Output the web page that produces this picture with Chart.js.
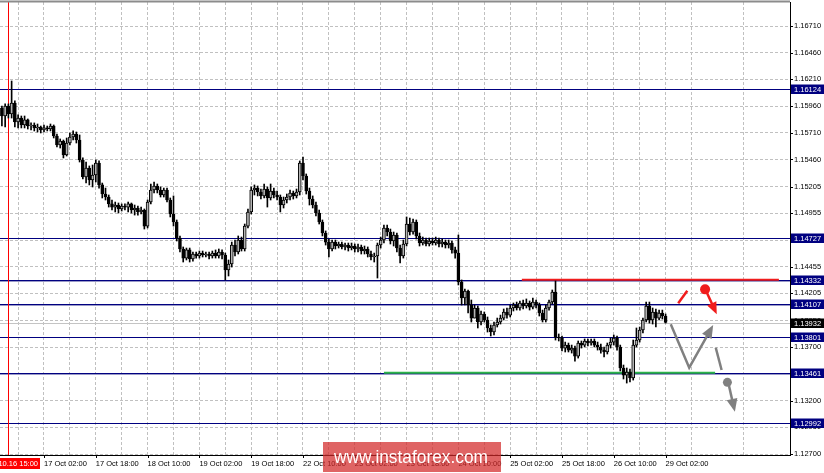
<!DOCTYPE html>
<html>
<head>
<meta charset="utf-8">
<script src="https://cdn.jsdelivr.net/npm/chart.js@4.4.0/dist/chart.umd.min.js"></script>
<style>
  html, body { margin: 0; padding: 0; background: #fff; }
  #wrap { width: 824px; height: 473px; position: relative; }
</style>
</head>
<body>
<div id="wrap"><canvas id="chart"></canvas></div>
<script>
// EUR/USD H1 candles, 16 Oct 13:00 - 29 Oct 02:00 (bar 0 = 17 Oct 02:00)
const firstBar = -13;

const opens = [
  1.15942, 1.15867, 1.15961, 1.15886, 1.15989, 1.15811, 1.15848, 1.15783, 1.15830, 1.15773,
  1.15783, 1.15755, 1.15764, 1.15736, 1.15755, 1.15745, 1.15773, 1.15680, 1.15595, 1.15633,
  1.15502, 1.15614, 1.15670, 1.15698, 1.15642, 1.15455, 1.15296, 1.15380, 1.15268, 1.15314,
  1.15427, 1.15221, 1.15136, 1.15108, 1.15043, 1.15014, 1.15033, 1.14996, 1.15024, 1.15014,
  1.15043, 1.14986, 1.15005, 1.14968, 1.14986, 1.14836, 1.15061, 1.15174, 1.15211, 1.15174,
  1.15127, 1.15174, 1.15080, 1.14949, 1.14874, 1.14724, 1.14621, 1.14536, 1.14612, 1.14527,
  1.14574, 1.14555, 1.14583, 1.14565, 1.14574, 1.14555, 1.14583, 1.14555, 1.14593, 1.14565,
  1.14424, 1.14480, 1.14658, 1.14593, 1.14705, 1.14621, 1.14836, 1.14968, 1.15174, 1.15192,
  1.15155, 1.15118, 1.15183, 1.15099, 1.15164, 1.15127, 1.15108, 1.15033, 1.15080, 1.15108,
  1.15146, 1.15118, 1.15155, 1.15427, 1.15305, 1.15164, 1.15089, 1.15033, 1.14958, 1.14874,
  1.14771, 1.14686, 1.14621, 1.14686, 1.14649, 1.14668, 1.14640, 1.14658, 1.14630, 1.14649,
  1.14621, 1.14640, 1.14602, 1.14621, 1.14574, 1.14546, 1.14555, 1.14658, 1.14705, 1.14818,
  1.14780, 1.14696, 1.14752, 1.14630, 1.14555, 1.14668, 1.14855, 1.14780, 1.14874, 1.14743,
  1.14677, 1.14705, 1.14668, 1.14696, 1.14677, 1.14705, 1.14668, 1.14686, 1.14658, 1.14677,
  1.14612, 1.14583, 1.14312, 1.14162, 1.14227, 1.14096, 1.13974, 1.14068, 1.13937, 1.14012,
  1.13956, 1.13881, 1.13843, 1.13909, 1.13937, 1.13974, 1.14031, 1.14002, 1.14068, 1.14096,
  1.14068, 1.14115, 1.14087, 1.14115, 1.14077, 1.14124, 1.14096, 1.14021, 1.13956, 1.14068,
  1.14124, 1.14218, 1.13796, 1.13787, 1.13693, 1.13721, 1.13674, 1.13693, 1.13618, 1.13740,
  1.13721, 1.13759, 1.13740, 1.13759, 1.13721, 1.13703, 1.13674, 1.13656, 1.13721, 1.13749,
  1.13787, 1.13703, 1.13506, 1.13440, 1.13468, 1.13412, 1.13721, 1.13768, 1.13862, 1.13956,
  1.14087, 1.13956, 1.14031, 1.13974, 1.14021, 1.13993
];

const highs = [
  1.15961, 1.15980, 1.15980, 1.16195, 1.16008, 1.15877, 1.15867, 1.15867, 1.15839, 1.15802,
  1.15802, 1.15792, 1.15773, 1.15783, 1.15773, 1.15792, 1.15783, 1.15698, 1.15652, 1.15642,
  1.15661, 1.15708, 1.15727, 1.15717, 1.15689, 1.15474, 1.15436, 1.15399, 1.15408, 1.15455,
  1.15446, 1.15239, 1.15192, 1.15127, 1.15080, 1.15061, 1.15052, 1.15043, 1.15043, 1.15061,
  1.15052, 1.15033, 1.15024, 1.15014, 1.14996, 1.15080, 1.15230, 1.15249, 1.15230, 1.15202,
  1.15192, 1.15192, 1.15099, 1.15118, 1.14893, 1.14743, 1.14640, 1.14630, 1.14630, 1.14593,
  1.14593, 1.14602, 1.14602, 1.14593, 1.14593, 1.14602, 1.14612, 1.14621, 1.14612, 1.14583,
  1.14518, 1.14686, 1.14705, 1.14743, 1.14733, 1.14855, 1.14996, 1.15202, 1.15221, 1.15211,
  1.15183, 1.15230, 1.15202, 1.15230, 1.15192, 1.15164, 1.15127, 1.15108, 1.15136, 1.15174,
  1.15164, 1.15183, 1.15446, 1.15483, 1.15324, 1.15192, 1.15118, 1.15061, 1.14986, 1.14893,
  1.14790, 1.14715, 1.14705, 1.14705, 1.14686, 1.14686, 1.14677, 1.14677, 1.14677, 1.14668,
  1.14668, 1.14658, 1.14649, 1.14640, 1.14602, 1.14583, 1.14677, 1.14733, 1.14846, 1.14846,
  1.14808, 1.14780, 1.14771, 1.14658, 1.14705, 1.14921, 1.14911, 1.14902, 1.14893, 1.14771,
  1.14733, 1.14724, 1.14724, 1.14724, 1.14733, 1.14724, 1.14715, 1.14705, 1.14705, 1.14696,
  1.14640, 1.14752, 1.14331, 1.14246, 1.14237, 1.14143, 1.14096, 1.14087, 1.14040, 1.14031,
  1.13984, 1.13909, 1.13937, 1.13974, 1.14002, 1.14059, 1.14068, 1.14096, 1.14115, 1.14124,
  1.14134, 1.14143, 1.14153, 1.14134, 1.14162, 1.14143, 1.14115, 1.14049, 1.14096, 1.14143,
  1.14237, 1.14321, 1.13825, 1.13806, 1.13749, 1.13740, 1.13721, 1.13712, 1.13759, 1.13759,
  1.13778, 1.13778, 1.13778, 1.13778, 1.13749, 1.13731, 1.13703, 1.13740, 1.13787, 1.13815,
  1.13806, 1.13721, 1.13534, 1.13506, 1.13496, 1.13768, 1.13881, 1.13890, 1.13974, 1.14124,
  1.14124, 1.14068, 1.14059, 1.14049, 1.14049, 1.14012
];

const lows = [
  1.15773, 1.15764, 1.15848, 1.15848, 1.15764, 1.15755, 1.15755, 1.15755, 1.15745, 1.15736,
  1.15727, 1.15717, 1.15708, 1.15717, 1.15727, 1.15727, 1.15661, 1.15577, 1.15567, 1.15474,
  1.15492, 1.15595, 1.15642, 1.15614, 1.15436, 1.15277, 1.15239, 1.15221, 1.15202, 1.15249,
  1.15192, 1.15099, 1.15080, 1.15014, 1.14986, 1.14968, 1.14958, 1.14977, 1.14986, 1.14968,
  1.14958, 1.14939, 1.14939, 1.14949, 1.14808, 1.14818, 1.15043, 1.15146, 1.15146, 1.15108,
  1.15108, 1.15061, 1.14921, 1.14836, 1.14696, 1.14593, 1.14499, 1.14518, 1.14499, 1.14508,
  1.14536, 1.14536, 1.14546, 1.14546, 1.14527, 1.14536, 1.14536, 1.14536, 1.14527, 1.14331,
  1.14368, 1.14452, 1.14555, 1.14574, 1.14602, 1.14602, 1.14818, 1.14949, 1.15127, 1.15118,
  1.15089, 1.15099, 1.15014, 1.15080, 1.15099, 1.15080, 1.14968, 1.15005, 1.15052, 1.15080,
  1.15089, 1.15099, 1.15127, 1.15268, 1.15136, 1.15033, 1.15005, 1.14930, 1.14855, 1.14743,
  1.14658, 1.14546, 1.14602, 1.14621, 1.14630, 1.14621, 1.14612, 1.14602, 1.14612, 1.14593,
  1.14593, 1.14574, 1.14574, 1.14546, 1.14518, 1.14499, 1.14349, 1.14630, 1.14677, 1.14743,
  1.14668, 1.14649, 1.14593, 1.14490, 1.14536, 1.14649, 1.14752, 1.14761, 1.14715, 1.14649,
  1.14658, 1.14649, 1.14649, 1.14658, 1.14658, 1.14640, 1.14640, 1.14630, 1.14630, 1.14583,
  1.14536, 1.14284, 1.14096, 1.14096, 1.14021, 1.13937, 1.13974, 1.13881, 1.13909, 1.13937,
  1.13843, 1.13806, 1.13815, 1.13890, 1.13918, 1.13956, 1.13974, 1.13984, 1.14040, 1.14049,
  1.14049, 1.14059, 1.14068, 1.14049, 1.14059, 1.14068, 1.13993, 1.13937, 1.13937, 1.14049,
  1.14106, 1.13768, 1.13759, 1.13665, 1.13656, 1.13656, 1.13646, 1.13571, 1.13599, 1.13693,
  1.13703, 1.13712, 1.13721, 1.13703, 1.13674, 1.13646, 1.13609, 1.13637, 1.13693, 1.13721,
  1.13674, 1.13478, 1.13403, 1.13365, 1.13375, 1.13393, 1.13703, 1.13749, 1.13834, 1.13937,
  1.13927, 1.13918, 1.13890, 1.13956, 1.13965, 1.13927
];

const closes = [
  1.15867, 1.15961, 1.15886, 1.15989, 1.15811, 1.15848, 1.15783, 1.15830, 1.15773, 1.15783,
  1.15755, 1.15764, 1.15736, 1.15755, 1.15745, 1.15773, 1.15680, 1.15595, 1.15633, 1.15502,
  1.15614, 1.15670, 1.15698, 1.15642, 1.15455, 1.15296, 1.15380, 1.15268, 1.15314, 1.15427,
  1.15221, 1.15136, 1.15108, 1.15043, 1.15014, 1.15033, 1.14996, 1.15024, 1.15014, 1.15043,
  1.14986, 1.15005, 1.14968, 1.14986, 1.14836, 1.15061, 1.15174, 1.15211, 1.15174, 1.15127,
  1.15174, 1.15080, 1.14949, 1.14874, 1.14724, 1.14621, 1.14536, 1.14612, 1.14527, 1.14574,
  1.14555, 1.14583, 1.14565, 1.14574, 1.14555, 1.14583, 1.14555, 1.14593, 1.14565, 1.14424,
  1.14480, 1.14658, 1.14593, 1.14705, 1.14621, 1.14836, 1.14968, 1.15174, 1.15192, 1.15155,
  1.15118, 1.15183, 1.15099, 1.15164, 1.15127, 1.15108, 1.15033, 1.15080, 1.15108, 1.15146,
  1.15118, 1.15155, 1.15427, 1.15305, 1.15164, 1.15089, 1.15033, 1.14958, 1.14874, 1.14771,
  1.14686, 1.14621, 1.14686, 1.14649, 1.14668, 1.14640, 1.14658, 1.14630, 1.14649, 1.14621,
  1.14640, 1.14602, 1.14621, 1.14574, 1.14546, 1.14555, 1.14658, 1.14705, 1.14818, 1.14780,
  1.14696, 1.14752, 1.14630, 1.14555, 1.14668, 1.14855, 1.14780, 1.14874, 1.14743, 1.14677,
  1.14705, 1.14668, 1.14696, 1.14677, 1.14705, 1.14668, 1.14686, 1.14658, 1.14677, 1.14612,
  1.14583, 1.14312, 1.14162, 1.14227, 1.14096, 1.13974, 1.14068, 1.13937, 1.14012, 1.13956,
  1.13881, 1.13843, 1.13909, 1.13937, 1.13974, 1.14031, 1.14002, 1.14068, 1.14096, 1.14068,
  1.14115, 1.14087, 1.14115, 1.14077, 1.14124, 1.14096, 1.14021, 1.13956, 1.14068, 1.14124,
  1.14218, 1.13796, 1.13787, 1.13693, 1.13721, 1.13674, 1.13693, 1.13618, 1.13740, 1.13721,
  1.13759, 1.13740, 1.13759, 1.13721, 1.13703, 1.13674, 1.13656, 1.13721, 1.13749, 1.13787,
  1.13703, 1.13506, 1.13440, 1.13468, 1.13412, 1.13721, 1.13768, 1.13862, 1.13956, 1.14087,
  1.13956, 1.14031, 1.13974, 1.14021, 1.13993, 1.13932
];

// axis labels
const xTickLabels = ['17 Oct 02:00', '17 Oct 18:00', '18 Oct 10:00', '19 Oct 02:00', '19 Oct 18:00',
  '22 Oct 10:00', '23 Oct 02:00', '23 Oct 18:00', '24 Oct 10:00', '25 Oct 02:00', '25 Oct 18:00',
  '26 Oct 10:00', '29 Oct 02:00'];
const yTicks = [1.16710, 1.16460, 1.16210, 1.15960, 1.15710, 1.15460, 1.15205, 1.14955, 1.14705,
  1.14455, 1.14205, 1.13950, 1.13700, 1.13450, 1.13200, 1.12950, 1.12700];

// horizontal levels and marks
const levels = [1.16124, 1.14727, 1.14332, 1.14107, 1.13801, 1.13461, 1.12992];
const thickLevels = [1.14332, 1.14107, 1.13461];
const bidPrice = 1.13932;
const markerBar = -11;
const markerLabel = '2018.10.16 15:00';
const resistance = { from: 147.6, to: 227.0, price: 1.14332 };
const support = { from: 105.0, to: 207.3, price: 1.13461 };

// forecast drawings, [bar, price]
const redStroke = [[195.9, 1.14112], [198.7, 1.14230]];
const redDot = [204.2, 1.14243];
const redArrow = [[204.8, 1.14209], [207.8, 1.14009]];
const grayPath = [[193.6, 1.13915], [199.3, 1.13509], [206.7, 1.13909]];
const grayStroke = [[207.5, 1.13696], [209.3, 1.13487]];
const grayDot = [211.1, 1.13372];
const grayArrow = [[211.6, 1.13337], [213.4, 1.13096]];

const FONT = 'Liberation Sans, Arial, sans-serif';
const NAVY = '#000080';

const gridBars = [];
for (let b = -8; b <= 224; b += 8) gridBars.push(b);

const wickData = opens.map((o, i) => ({ x: firstBar + i, y: [lows[i], highs[i]] }));
const bodyData = opens.map((o, i) => ({ x: firstBar + i, y: [o, closes[i]] }));
const bodyColors = opens.map((o, i) => closes[i] > o ? '#b4b4b4' : '#000000');

function hline(ctx, x1, x2, y, color, width) {
  ctx.strokeStyle = color;
  ctx.lineWidth = width;
  ctx.beginPath();
  ctx.moveTo(x1, y);
  ctx.lineTo(x2, y);
  ctx.stroke();
}

function drawArrow(ctx, pts, color, width, head) {
  const n = pts.length;
  const [tx, ty] = pts[n - 1];
  const [px, py] = pts[n - 2];
  const ang = Math.atan2(ty - py, tx - px);
  ctx.strokeStyle = color;
  ctx.fillStyle = color;
  ctx.lineWidth = width;
  ctx.lineJoin = 'miter';
  ctx.beginPath();
  ctx.moveTo(pts[0][0], pts[0][1]);
  for (let i = 1; i < n - 1; i++) ctx.lineTo(pts[i][0], pts[i][1]);
  if (head) ctx.lineTo(tx - Math.cos(ang) * head * 0.8, ty - Math.sin(ang) * head * 0.8);
  else ctx.lineTo(tx, ty);
  ctx.stroke();
  if (head) {
    const bx = tx - Math.cos(ang) * head, by = ty - Math.sin(ang) * head;
    const w = head * 0.42;
    ctx.beginPath();
    ctx.moveTo(tx, ty);
    ctx.lineTo(bx + Math.sin(ang) * w, by - Math.cos(ang) * w);
    ctx.lineTo(bx - Math.sin(ang) * w, by + Math.cos(ang) * w);
    ctx.closePath();
    ctx.fill();
  }
}

const overlay = {
  id: 'overlay',
  beforeDatasetsDraw(chart) {
    const { ctx, chartArea: a, scales: { x, y } } = chart;
    const py = v => Math.round(y.getPixelForValue(v)) + 0.5;
    ctx.save();
    hline(ctx, a.left, a.right, py(bidPrice), '#c4c4c4', 1);
    levels.forEach(v => {
      hline(ctx, a.left, a.right, py(v), NAVY, 1);
      if (thickLevels.includes(v)) hline(ctx, a.left, a.right, py(v) + 1, '#9a9ac8', 1);
    });
    hline(ctx, x.getPixelForValue(resistance.from), x.getPixelForValue(resistance.to),
      y.getPixelForValue(resistance.price), '#f01c1c', 2);
    hline(ctx, x.getPixelForValue(support.from), x.getPixelForValue(support.to),
      y.getPixelForValue(support.price), '#2db34a', 2);
    const mx = Math.round(x.getPixelForValue(markerBar)) + 0.5;
    ctx.strokeStyle = '#ff0000';
    ctx.lineWidth = 1;
    ctx.beginPath();
    ctx.moveTo(mx, a.top);
    ctx.lineTo(mx, a.bottom);
    ctx.stroke();
    ctx.restore();
  },
  afterDatasetsDraw(chart) {
    const { ctx, scales: { x, y } } = chart;
    const p = pt => [x.getPixelForValue(pt[0]), y.getPixelForValue(pt[1])];
    ctx.save();
    drawArrow(ctx, redStroke.map(p), '#f01c1c', 2.5, 0);
    drawArrow(ctx, redArrow.map(p), '#f01c1c', 2.5, 12);
    drawArrow(ctx, grayPath.map(p), '#808080', 2.5, 13);
    drawArrow(ctx, grayStroke.map(p), '#808080', 2.5, 0);
    drawArrow(ctx, grayArrow.map(p), '#808080', 2.5, 13);
    [[redDot, '#f01c1c', 5], [grayDot, '#808080', 4.5]].forEach(([d, c, r]) => {
      const [cx, cy] = p(d);
      ctx.fillStyle = c;
      ctx.beginPath();
      ctx.arc(cx, cy, r, 0, Math.PI * 2);
      ctx.fill();
    });
    ctx.restore();
  },
  afterDraw(chart) {
    const { ctx, chartArea: a, scales: { x, y }, width } = chart;
    ctx.save();
    // tick marks
    ctx.strokeStyle = '#000';
    ctx.lineWidth = 1;
    ctx.beginPath();
    yTicks.forEach(v => {
      const ty = Math.round(y.getPixelForValue(v)) + 0.5;
      ctx.moveTo(a.right, ty);
      ctx.lineTo(a.right + 3, ty);
    });
    xTickLabels.forEach((l, k) => {
      const tx = Math.round(x.getPixelForValue(k * 16)) + 0.5;
      ctx.moveTo(tx, a.bottom);
      ctx.lineTo(tx, a.bottom + 3);
    });
    ctx.stroke();
    // top border
    hline(ctx, 0, a.right, 1.5, '#8c8c8c', 2);
    // price boxes on the right axis
    ctx.font = '7.5px ' + FONT;
    ctx.textBaseline = 'middle';
    ctx.textAlign = 'left';
    const box = (v, bg) => {
      const by = Math.round(y.getPixelForValue(v));
      ctx.fillStyle = bg;
      ctx.fillRect(a.right + 1, by - 4.5, width - a.right - 1, 9.5);
      ctx.fillStyle = '#fff';
      ctx.fillText(v.toFixed(5), a.right + 4, by + 0.5);
    };
    levels.forEach(v => box(v, NAVY));
    box(bidPrice, '#000');
    // vertical line time label
    ctx.fillStyle = '#ff0000';
    ctx.fillRect(0, a.bottom + 3, 40, 11);
    ctx.fillStyle = '#fff';
    ctx.textAlign = 'right';
    ctx.fillText(markerLabel, 38, a.bottom + 9);
    // watermark
    ctx.fillStyle = 'rgba(210, 40, 40, 0.72)';
    ctx.fillRect(323, 442, 178, 30);
    ctx.fillStyle = '#fff';
    ctx.font = '18px ' + FONT;
    ctx.textAlign = 'center';
    ctx.textBaseline = 'alphabetic';
    ctx.fillText('www.instaforex.com', 411, 463, 154);
    ctx.restore();
  }
};

new Chart(document.getElementById('chart'), {
  type: 'bar',
  data: {
    datasets: [
      {
        data: wickData,
        backgroundColor: '#000',
        barThickness: 1,
        grouped: false,
        order: 2
      },
      {
        data: bodyData,
        backgroundColor: bodyColors,
        borderColor: '#000',
        borderWidth: 1,
        borderSkipped: false,
        barThickness: 3,
        grouped: false,
        order: 1
      }
    ]
  },
  options: {
    responsive: true,
    maintainAspectRatio: false,
    animation: false,
    events: [],
    layout: { padding: { top: 2, left: 0, right: 0, bottom: 0 } },
    plugins: { legend: { display: false }, tooltip: { enabled: false } },
    scales: {
      x: {
        type: 'linear',
        offset: false,
        min: -13.59,
        max: 230.43,
        afterBuildTicks: s => { s.ticks = gridBars.map(v => ({ value: v })); },
        afterFit: s => { s.height = 18; s.paddingLeft = 0; s.paddingRight = 0; },
        grid: { color: '#c0c0c0', offset: false, drawTicks: false },
        border: { display: true, color: '#000', width: 1, dash: [3, 2] },
        ticks: {
          autoSkip: false,
          maxRotation: 0,
          align: 'start',
          padding: 4,
          color: '#000',
          font: { family: FONT, size: 7.5 },
          callback: v => (v >= 0 && v % 16 === 0) ? xTickLabels[v / 16] : ''
        }
      },
      y: {
        type: 'linear',
        position: 'right',
        min: 1.12691,
        max: 1.16935,
        afterBuildTicks: s => { s.ticks = yTicks.map(v => ({ value: v })); },
        afterFit: s => { s.width = 34; s.paddingTop = 0; s.paddingBottom = 0; },
        grid: { color: '#c0c0c0', drawTicks: false },
        border: { display: true, color: '#000', width: 1, dash: [3, 2] },
        ticks: {
          autoSkip: false,
          padding: 4,
          color: '#000',
          font: { family: FONT, size: 7.5 },
          callback: v => v.toFixed(5)
        }
      }
    }
  },
  plugins: [overlay]
});
</script>
</body>
</html>
